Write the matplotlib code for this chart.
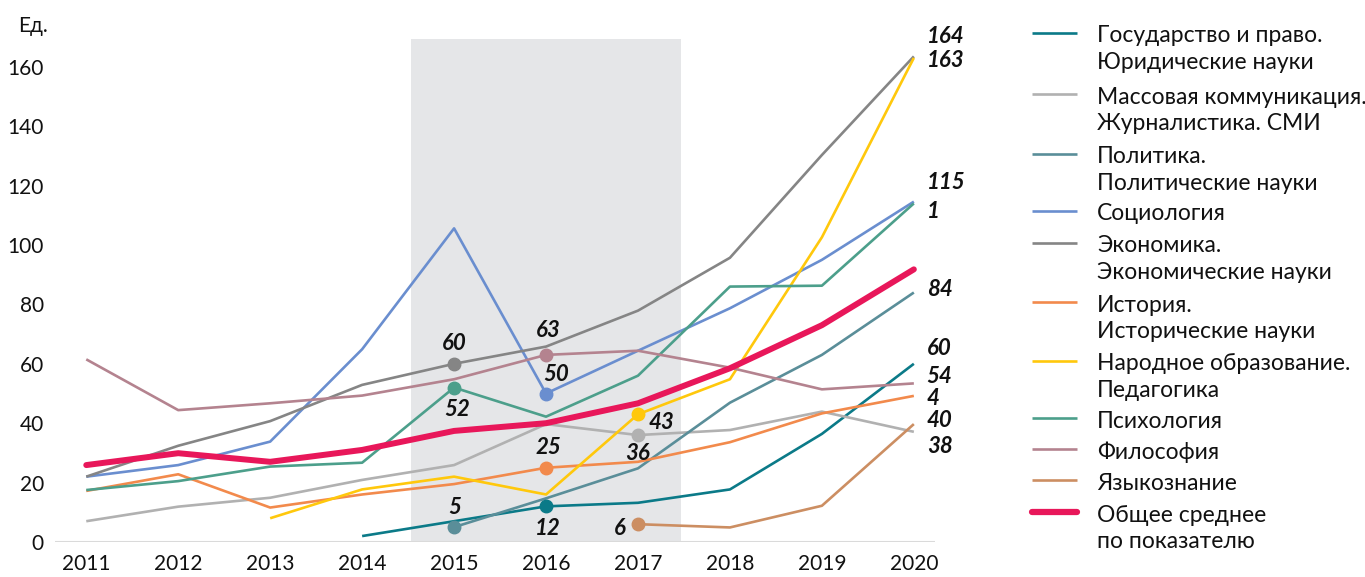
import numpy as np
import matplotlib
matplotlib.use("Agg")
import matplotlib.pyplot as plt
from matplotlib.lines import Line2D

plt.rcParams['font.family'] = ['Lato', 'DejaVu Sans']

nan = np.nan
years = [2011, 2012, 2013, 2014, 2015, 2016, 2017, 2018, 2019, 2020]

law        = [nan, nan, nan, 2, 7, 12, 13.2, 17.7, 36.4, 60]
media      = [7, 11.9, 14.9, 20.9, 25.9, 39.7, 36, 37.7, 43.9, 37.1]
politics   = [nan, nan, nan, nan, 5, 14.7, 24.8, 46.9, 63, 84]
sociology  = [22, 25.9, 33.8, 64.9, 105.6, 50, 64.4, 78.7, 95, 114.6]
economics  = [22, 32.4, 40.7, 52.9, 60, 65.8, 77.9, 95.7, 130.3, 163.5]
history    = [17.2, 22.8, 11.6, 16, 19.5, 25, 27, 33.6, 43.3, 49.2]
education  = [nan, nan, 8, 17.7, 22, 16, 43, 54.8, 102.6, 163]
psychology = [17.5, 20.5, 25.4, 26.7, 52, 42.2, 56, 86, 86.3, 114]
philosophy = [61.5, 44.4, 46.7, 49.3, 54.8, 63, 64.4, 58.7, 51.4, 53.4]
linguistics = [nan, nan, nan, nan, nan, nan, 6, 4.9, 12.2, 39.7]
average    = [25.9, 29.9, 27, 31, 37.4, 40, 46.7, 58.5, 73, 91.8]

series_names = [
    "Государство и право.\nЮридические науки",
    "Массовая коммуникация.\nЖурналистика. СМИ",
    "Политика.\nПолитические науки",
    "Социология",
    "Экономика.\nЭкономические науки",
    "История.\nИсторические науки",
    "Народное образование.\nПедагогика",
    "Психология",
    "Философия",
    "Языкознание",
    "Общее среднее\nпо показателю",
]
series_values = [law, media, politics, sociology, economics, history,
                 education, psychology, philosophy, linguistics, average]
colors = ["#0b7a88", "#b1b1b1", "#5a8e99", "#6a8ecf", "#858585", "#f28a4c",
          "#ffc80c", "#4c9f8b", "#b4838f", "#cc8e62", "#e8175a"]
widths = [1.9] * 10 + [4.3]

# end labels (text, value shown)
end_labels = ["164", "163", "115", "1", "84", "60", "54", "4", "40", "38"]
end_label_y = [170.1, 162.0, 120.9, 111.2, 85.1, 65.0, 55.7, 48.4, 40.8, 32.1]

# highlighted points: (series index, year, label)
highlights = [
    (4, 2015, "60"), (7, 2015, "52"), (2, 2015, "5"),
    (8, 2016, "63"), (3, 2016, "50"), (5, 2016, "25"), (0, 2016, "12"),
    (6, 2017, "43"), (1, 2017, "36"), (9, 2017, "6"),
]
highlight_offsets = [(0, 20), (3, -22), (1, 20),
                     (2, 24), (10, 19), (2, 20), (2, -22),
                     (23, -8), (0, -18), (-18, -4)]

W, H = 1365, 577
fig = plt.figure(figsize=(W / 100, H / 100), dpi=100)
ax = fig.add_axes([55 / W, (H - 542) / H, (935 - 55) / W, (542 - 30) / H])
ymax = (542 - 30) / 2.97
ax.set_xlim(2010.66, 2020.23)
ax.set_ylim(0, ymax)

ax.axvspan(2014.53, 2017.47, ymin=0, ymax=169.4 / ymax, color="#e5e6e8", lw=0, zorder=0)
ax.axhline(0, color="#dadada", lw=1.5, zorder=1)

for i, (vals, c, lw) in enumerate(zip(series_values, colors, widths)):
    ax.plot(years, vals, color=c, lw=lw, zorder=3 if i < 10 else 4,
            solid_capstyle="round" if i == 10 else "butt", clip_on=False)

for (si, yr, lab), (dx, dy) in zip(highlights, highlight_offsets):
    v = series_values[si][years.index(yr)]
    ax.plot([yr], [v], "o", color=colors[si], ms=9, zorder=5, clip_on=False)
    ax.annotate(lab, (yr, v), xytext=(dx, dy), textcoords="offset pixels",
                ha="center", va="center", fontsize=16, fontweight="bold",
                fontstyle="italic", color="#111111", zorder=6)

for lab, yv in zip(end_labels, end_label_y):
    ax.text(2020.14, yv, lab, ha="left", va="center", fontsize=16,
            fontweight="bold", fontstyle="italic", color="#111111", clip_on=False)

ax.set_xticks(years)
ax.set_xticklabels([str(y) for y in years])
ax.set_yticks(range(0, 161, 20))
ax.tick_params(axis="both", length=0, labelsize=15, colors="#111111")
ax.tick_params(axis="y", pad=8)
ax.tick_params(axis="x", pad=9)
for s in ax.spines.values():
    s.set_visible(False)
ax.patch.set_alpha(0)

fig.text(18 / W, 1 - 26 / H, "Ед.", ha="left", va="center", fontsize=15, color="#111111")

# legend drawn manually
legend_line_y = [33, 94, 154, 211, 243, 302, 361, 418, 449, 480, 512]
for name, c, lw, ly in zip(series_names, colors, widths, legend_line_y):
    fig.add_artist(Line2D([1032 / W, 1077 / W], [1 - ly / H, 1 - ly / H],
                          color=c, lw=lw if lw < 3 else 4.5,
                          solid_capstyle="round" if lw > 3 else "butt"))
    for k, t in enumerate(name.split("\n")):
        fig.text(1097 / W, 1 - (ly + 3 + 26.5 * k) / H, t, ha="left",
                 va="center", fontsize=16.5, color="#111111")

fig.savefig("out.png", dpi=100)
